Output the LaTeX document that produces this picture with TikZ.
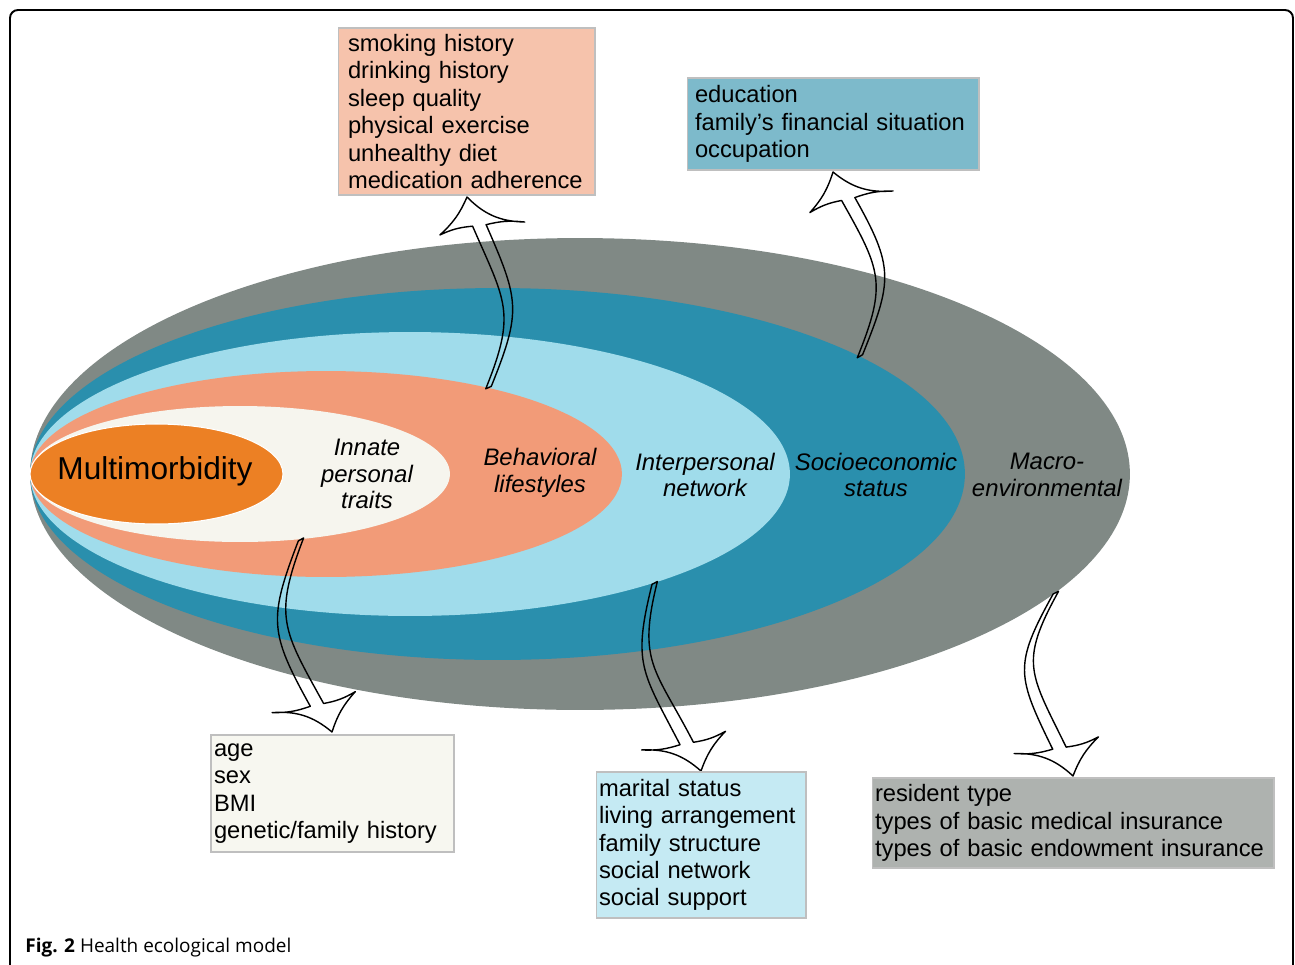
\documentclass[tikz,border=0pt]{standalone}
\usepackage{fontspec}
\setmainfont{Liberation Sans}
\newfontfamily\capfont{Open Sans}
\usetikzlibrary{shapes.geometric,calc}

\definecolor{macrogray}{RGB}{128,137,133}
\definecolor{sociteal}{RGB}{42,143,173}
\definecolor{interblue}{RGB}{160,220,235}
\definecolor{behsalmon}{RGB}{242,155,120}
\definecolor{innatecream}{RGB}{246,245,238}
\definecolor{multiorange}{RGB}{236,128,36}
\definecolor{behboxfill}{RGB}{246,195,172}
\definecolor{socioboxfill}{RGB}{125,186,203}
\definecolor{innateboxfill}{RGB}{247,247,240}
\definecolor{interboxfill}{RGB}{197,234,243}
\definecolor{macroboxfill}{RGB}{174,178,175}

\tikzset{
  ring/.style={ellipse, inner sep=0pt},
  layer/.style={font=\fontsize{13.6}{15.3}\selectfont\itshape, align=center, inner sep=0pt},
  infobox/.style={draw=black!25, line width=0.6pt, inner xsep=0.06cm, inner ysep=0pt,
    align=left, text width=#1, font=\fontsize{13.5}{15.6}\selectfont},
  arrowline/.style={draw=black, line width=0.8pt, line join=round},
}

% #1 start on ring, #2 tip, #3 turn of the head, #4 leaving angle, #5 looseness
\newcommand{\wavyarrow}[5]{%
  \pgfmathsetmacro{\arrin}{#3-90}%
  \pgfmathsetmacro{\offx}{3*cos(#3)}%
  \pgfmathsetmacro{\offy}{3*sin(#3)}%
  \begin{scope}[shift={(#2)}, rotate=#3]
    \coordinate (nl) at (-6.5,-29);
    \coordinate (nr) at (6.5,-33);
    \coordinate (bl) at (-40,-24);
    \coordinate (br) at (43,-46);
    \coordinate (tp) at (0,0);
  \end{scope}
  \fill[white] (nl) to[bend right=10] (bl) to[bend right=12] (tp)
    to[bend right=22] (br) to[bend right=10] (nr) -- cycle;
  \draw[arrowline] ($(#1)+(-\offx,-\offy)$) to[out=#4, in=\arrin, looseness=#5] (nl)
    to[bend right=10] (bl) to[bend right=12] (tp) to[bend right=22] (br)
    to[bend right=10] (nr) to[out=\arrin, in=#4, looseness=#5] ($(#1)+(\offx,\offy)$) -- cycle;
}

\begin{document}
\begin{tikzpicture}[x=0.02cm, y=0.02cm]
\useasboundingbox (0,0) rectangle (1295,-964);
\draw[line width=1.1pt, rounded corners=0.16cm] (10,-10) rectangle (1293,-975);
%---------------------------------- rings
\node[ring, fill=macrogray, minimum width=22cm, minimum height=9.44cm] (macro) at (580,-474) {};
\node[ring, fill=sociteal, minimum width=18.7cm, minimum height=7.44cm] (socio) at (497.5,-474) {};
\node[ring, fill=interblue, minimum width=15.2cm, minimum height=5.68cm] (inter) at (410,-474) {};
\node[ring, fill=behsalmon, minimum width=11.84cm, minimum height=4.12cm] (beh) at (326,-474) {};
\node[ring, fill=innatecream, minimum width=8.4cm, minimum height=2.72cm] (innate) at (240,-474) {};
\node[ring, fill=multiorange, draw=white, line width=0.6pt, minimum width=5.06cm, minimum height=2cm] (multi) at (156.5,-474) {};
%---------------------------------- ring labels
\node[font=\fontsize{18}{20}\selectfont, inner sep=0pt] (lmulti) at (155,-471) {Multimorbidity};
\node[layer] (linnate) at (367,-474) {Innate\\personal\\traits};
\node[layer] (lbeh) at (540,-473) {Behavioral\\lifestyles};
\node[layer] (linter) at (705,-475) {Interpersonal\\network};
\node[layer] (lsocio) at (876,-475) {Socioeconomic\\status};
\node[layer] (lmacro) at (1047,-475) {Macro-\\environmental};
%---------------------------------- arrows
\coordinate (tipA) at (467,-197);
\coordinate (tipB) at (833,-172);
\coordinate (tipC) at (332,-732);
\coordinate (tipD) at (701,-771);
\coordinate (tipE) at (1073,-776);
\wavyarrow{beh.28}{tipA}{23.5}{68}{1.3}
\wavyarrow{socio.18}{tipB}{29.4}{68}{1.3}
\wavyarrow{innate.313}{tipC}{-151}{-111}{1.3}
\wavyarrow{inter.336}{tipD}{-152.6}{-104}{1.3}
\wavyarrow{macro.346}{tipE}{-154}{-119}{1.35}
%---------------------------------- boxes
\node[infobox=4.74cm, inner xsep=0.2cm, fill=behboxfill, minimum height=3.34cm] (behbox) at (466.5,-111.5)
  {smoking history\\drinking history\\sleep quality\\physical exercise\\unhealthy diet\\medication adherence};
\node[infobox=5.52cm, inner xsep=0.16cm, fill=socioboxfill, minimum height=1.84cm] (sociobox) at (833,-124)
  {education\\family’s financial situation\\occupation};
\node[infobox=4.74cm, fill=innateboxfill, minimum height=2.34cm] (innatebox) at (332.5,-793.5)
  {age\\sex\\BMI\\genetic/family history};
\node[infobox=4.08cm, fill=interboxfill, minimum height=2.92cm] (interbox) at (701,-845)
  {marital status\\living arrangement\\family structure\\social network\\social support};
\node[infobox=7.92cm, fill=macroboxfill, minimum height=1.8cm] (macrobox) at (1073,-823)
  {resident type\\types of basic medical insurance\\types of basic endowment insurance};
%---------------------------------- caption
\node[anchor=base west, inner sep=0pt, font=\capfont\fontsize{10.8}{12}\selectfont] (caption) at (25,-952)
  {\textbf{Fig. 2} Health ecological model};
\end{tikzpicture}
\end{document}
